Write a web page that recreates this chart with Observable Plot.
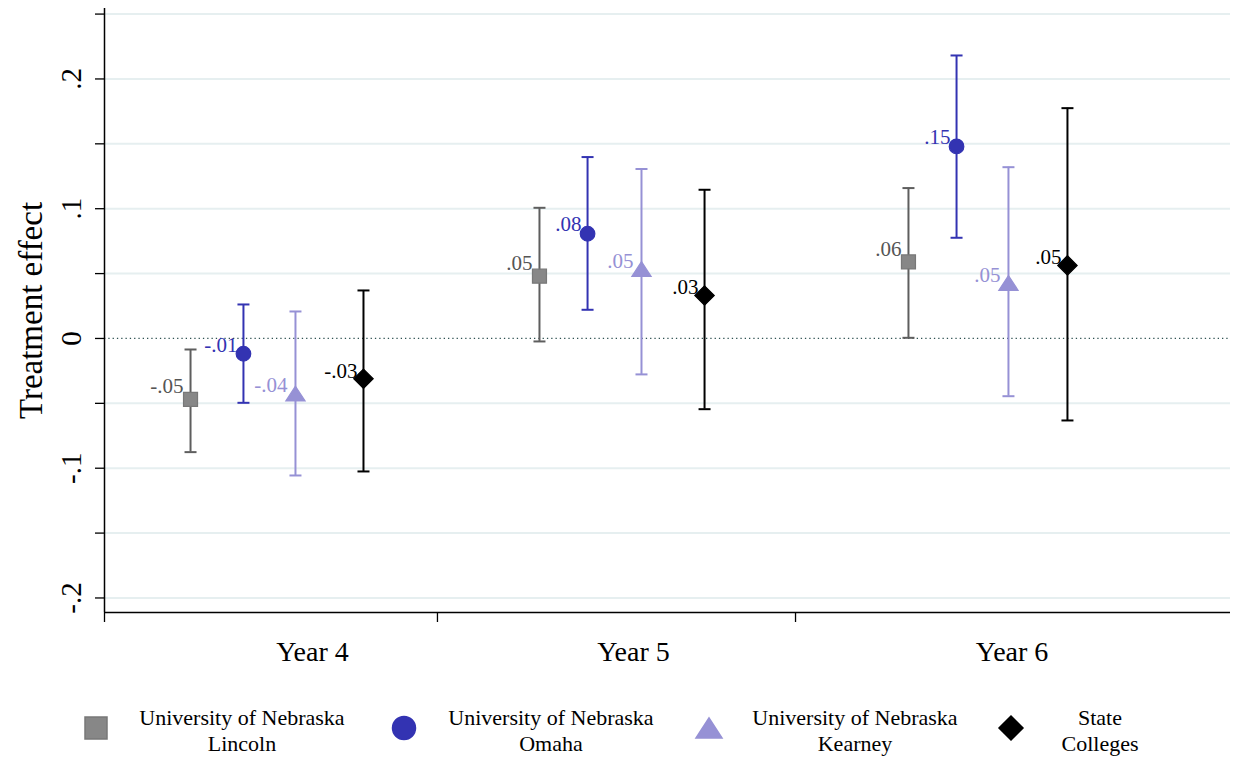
<!DOCTYPE html>
<html><head><meta charset="utf-8">
<script src="https://cdn.jsdelivr.net/npm/d3@7"></script>
<script src="https://cdn.jsdelivr.net/npm/@observablehq/plot@0.6"></script>
<style>
body{margin:0;background:#fff;font-family:"Liberation Serif","Times New Roman",serif;}
#chart,#legend{width:1238px;}
#legend svg{display:block;}
</style></head><body><div id="chart"></div><div id="legend"></div>
<script>
// ---- data ----
const years = ["Year 4", "Year 5", "Year 6"];
const seriesNames = ["University of Nebraska Lincoln", "University of Nebraska Omaha", "University of Nebraska Kearney", "State Colleges"];
const legendLines = [["University of Nebraska", "Lincoln"], ["University of Nebraska", "Omaha"], ["University of Nebraska", "Kearney"], ["State", "Colleges"]];

// x positions (plot units, 0-100) of each marker in Year 4, 5, 6
const xLincoln = [7.64, 38.63, 71.4];
const xOmaha   = [12.34, 42.9, 75.67];
const xKearney = [16.96, 47.69, 80.28];
const xState   = [23.0, 53.29, 85.52];

const estLincoln = [-0.047, 0.048, 0.059];
const loLincoln  = [-0.0876, -0.0023, 0.0005];
const hiLincoln  = [-0.0085, 0.1007, 0.1159];
const lblLincoln = ["-.05", ".05", ".06"];

const estOmaha = [-0.0118, 0.0807, 0.148];
const loOmaha  = [-0.0496, 0.0221, 0.0776];
const hiOmaha  = [0.0262, 0.1398, 0.2181];
const lblOmaha = ["-.01", ".08", ".15"];

const estKearney = [-0.0425, 0.0535, 0.0428];
const loKearney  = [-0.1056, -0.0277, -0.0445];
const hiKearney  = [0.0208, 0.1306, 0.132];
const lblKearney = ["-.04", ".05", ".05"];

const estState = [-0.0311, 0.0331, 0.0563];
const loState  = [-0.1025, -0.0545, -0.0632];
const hiState  = [0.037, 0.1146, 0.1775];
const lblState = ["-.03", ".03", ".05"];

const yearLabelX = [18.47, 46.98, 80.6];
const yearSepX = [0, 29.57, 61.37];
const yGridTicks = [-0.2, -0.15, -0.1, -0.05, 0.05, 0.1, 0.15, 0.2, 0.25];
const yAllTicks = [-0.2, -0.15, -0.1, -0.05, 0, 0.05, 0.1, 0.15, 0.2, 0.25];
const yLabelTicks = [-0.2, -0.1, 0, 0.1, 0.2];
const yTickText = ["-.2", "-.1", "0", ".1", ".2"];
const yTitle = "Treatment effect";

// ---- build rows ----
const seriesData = [
  [xLincoln, estLincoln, loLincoln, hiLincoln, lblLincoln],
  [xOmaha, estOmaha, loOmaha, hiOmaha, lblOmaha],
  [xKearney, estKearney, loKearney, hiKearney, lblKearney],
  [xState, estState, loState, hiState, lblState]
].map(([xs, est, lo, hi, lbl], s) => years.map((year, i) => ({
  series: seriesNames[s], year, x: xs[i], est: est[i], lo: lo[i], hi: hi[i], label: lbl[i]
})));

// ---- symbols ----
const radius = size => Math.sqrt(size / Math.PI);
const capSym = {draw(c, size){ const h = radius(size); c.moveTo(-h, 0); c.lineTo(h, 0); }};
const squareSym = {draw(c, size){ const h = radius(size); c.moveTo(-h, -h); c.lineTo(h, -h); c.lineTo(h, h); c.lineTo(-h, h); c.closePath(); }};
const triSym = {draw(c, size){ const h = radius(size); c.moveTo(0, -h); c.lineTo(1.3 * h, h); c.lineTo(-1.3 * h, h); c.closePath(); }};
const diaSym = {draw(c, size){ const h = radius(size); c.moveTo(0, -h); c.lineTo(h, 0); c.lineTo(0, h); c.lineTo(-h, 0); c.closePath(); }};

const styles = [
  {fill: "#878787", stroke: "#787878", ci: "#5e5e5e", text: "#555555", symbol: squareSym, r: 7, dx: -7, dy: -13, key: 11},
  {fill: "#3333b2", stroke: "#3333b2", ci: "#3333b2", text: "#3333b2", symbol: "circle", r: 7.3, dx: -6, dy: -9, key: 11.5},
  {fill: "#9691d5", stroke: "#9691d5", ci: "#9691d5", text: "#9691d5", symbol: triSym, r: 7.4, dx: -8, dy: -8, key: 10},
  {fill: "#000000", stroke: "#000000", ci: "#000000", text: "#000000", symbol: diaSym, r: 9.7, dx: -6, dy: -8, key: 12}
];

const yDomain = [-0.2112, 0.2543];
const fmt = d => yTickText[yLabelTicks.indexOf(d)];

const marks = [
  Plot.ruleY(yGridTicks, {stroke: "#e6eff0", strokeWidth: 2}),
  Plot.ruleY([0], {stroke: "#2f5252", strokeWidth: 1.3, strokeDasharray: "1.3,3"}),
  Plot.ruleX([0], {stroke: "#000", strokeWidth: 1.5}),
  Plot.ruleY([yDomain[0]], {stroke: "#000", strokeWidth: 1.5}),
  Plot.axisY(yAllTicks, {tickSize: 9, tickFormat: () => "", label: null, stroke: "#000", strokeWidth: 1.3}),
  Plot.axisX(yearSepX, {tickSize: 10, tickFormat: () => "", label: null, stroke: "#000", strokeWidth: 1.3}),
  Plot.text(yLabelTicks, {y: d => d, text: fmt, frameAnchor: "left", rotate: -90, textAnchor: "middle", lineAnchor: "bottom", dx: -24, fontSize: 29, fill: "#000"}),
  Plot.text([yTitle], {text: d => d, frameAnchor: "left", rotate: -90, textAnchor: "middle", lineAnchor: "bottom", dx: -63, fontSize: 33, fill: "#000"}),
  Plot.text(years, {x: (d, i) => yearLabelX[i], text: d => d, frameAnchor: "bottom", lineAnchor: "top", dy: 29, fontSize: 28, fill: "#000"})
];

seriesData.forEach((rows, s) => {
  const st = styles[s];
  marks.push(
    Plot.ruleX(rows, {x: "x", y1: "lo", y2: "hi", stroke: st.ci, strokeWidth: 2}),
    Plot.dot(rows, {x: "x", y: "lo", symbol: capSym, r: 6, stroke: st.ci, strokeWidth: 2, fill: "none"}),
    Plot.dot(rows, {x: "x", y: "hi", symbol: capSym, r: 6, stroke: st.ci, strokeWidth: 2, fill: "none"}),
    Plot.dot(rows, {x: "x", y: "est", symbol: st.symbol, r: st.r, fill: st.fill, stroke: st.stroke, strokeWidth: 1.2}),
    Plot.text(rows, {x: "x", y: "est", text: "label", textAnchor: "end", dx: st.dx, dy: st.dy, fontSize: 21, fill: st.text})
  );
});

const chart = Plot.plot({
  width: 1238,
  height: 680,
  marginLeft: 104,
  marginRight: 8,
  marginTop: 8,
  marginBottom: 68,
  style: {fontFamily: '"Liberation Serif","Times New Roman",serif', background: "#fff"},
  x: {domain: [0, 100], axis: null},
  y: {domain: yDomain, axis: null},
  marks
});
document.getElementById("chart").append(chart);

// ---- legend ----
const keyX = [96, 404, 709, 1011];
const textX = [242, 551, 855, 1100];
const lsvg = d3.select("#legend").append("svg").attr("width", 1238).attr("height", 79)
  .style("font-family", '"Liberation Serif","Times New Roman",serif');
legendLines.forEach((lines, s) => {
  const st = styles[s];
  const type = typeof st.symbol === "string" ? d3.symbolCircle : st.symbol;
  lsvg.append("path")
    .attr("transform", `translate(${keyX[s]},48)`)
    .attr("d", d3.symbol(type, st.key * st.key * Math.PI)())
    .attr("fill", st.fill).attr("stroke", st.stroke).attr("stroke-width", 1.5);
  const t = lsvg.append("text").attr("text-anchor", "middle").attr("font-size", 22).attr("fill", "#000");
  lines.forEach((ln, j) => t.append("tspan").attr("x", textX[s]).attr("y", 45 + j * 26).text(ln));
});
</script>
</body></html>
